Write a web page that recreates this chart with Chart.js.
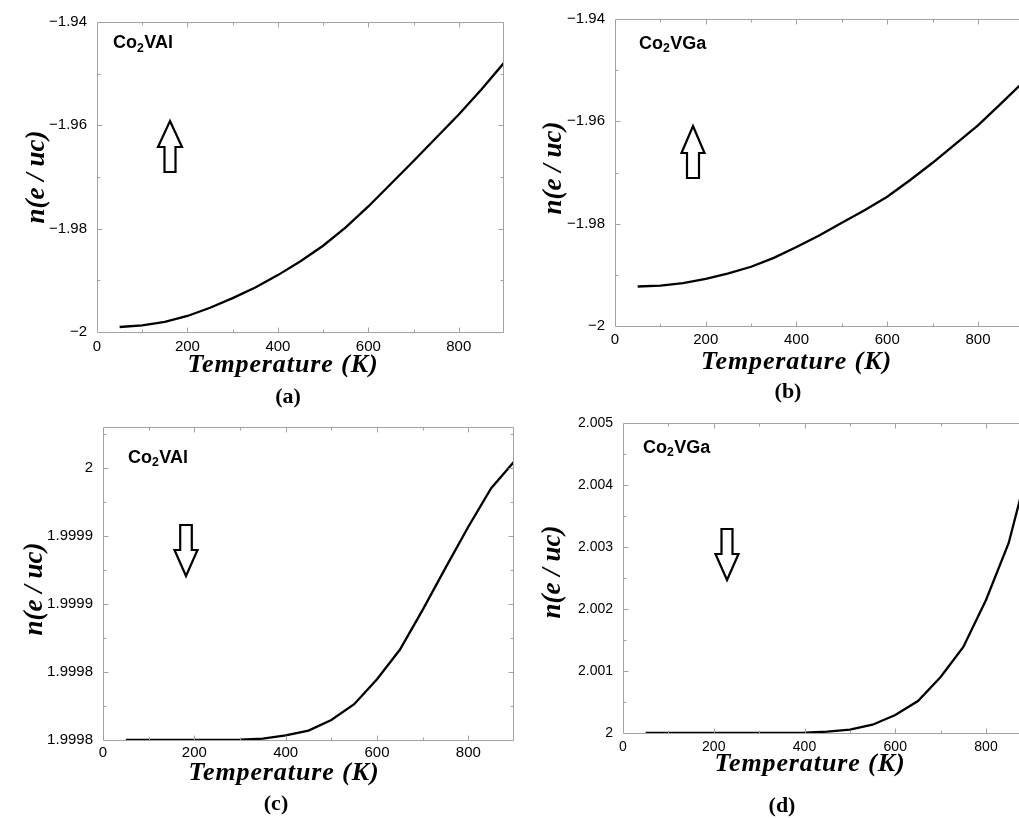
<!DOCTYPE html>
<html><head><meta charset="utf-8">
<script src="https://cdn.jsdelivr.net/npm/chart.js@4.4.1/dist/chart.umd.min.js"></script>
<style>
html,body{margin:0;padding:0;background:#fff;overflow:hidden;}
#wrap{position:relative;width:1019px;height:818px;}
canvas{position:absolute;left:0;top:0;}
</style></head><body>
<div id="wrap">
<canvas id="pa" width="1019" height="818"></canvas>
<canvas id="pb" width="1019" height="818"></canvas>
<canvas id="pc" width="1019" height="818"></canvas>
<canvas id="pd" width="1019" height="818"></canvas>
</div>
<script>
// ---------------- data ----------------
const temperatures = [50,100,150,200,250,300,350,400,450,500,550,600,650,700,750,800,850,900];
const nCo2VAl_up = [-1.99903,-1.99871,-1.99802,-1.99690,-1.99530,-1.99345,-1.99140,-1.98899,-1.98630,-1.98330,-1.97975,-1.97570,-1.97130,-1.96690,-1.96240,-1.95789,-1.95306,-1.94791];
const nCo2VGa_up = [-1.99228,-1.99209,-1.99160,-1.99080,-1.98971,-1.98842,-1.98669,-1.98457,-1.98232,-1.97981,-1.97738,-1.97473,-1.97151,-1.96810,-1.96444,-1.96077,-1.95659,-1.95228];
const nCo2VAl_dn = [1.99980,1.99980,1.99980,1.99980,1.99980,1.9998002,1.9998010,1.9998034,1.9998069,1.9998147,1.9998263,1.9998447,1.9998663,1.9998957,1.9999265,1.9999568,1.9999851,2.0000046];
const nCo2VGa_dn = [2,2,2,2,2,2,2,2.0000054,2.0000215,2.0000538,2.000134,2.00029,2.000516,2.000903,2.001387,2.002145,2.003065,2.00448];

const xTicks = [0,200,400,600,800];
const xTickLabels = ['0','200','400','600','800'];
const yTicksUp = [-2,-1.98,-1.96,-1.94];
const yTickLabelsUp = ['\u22122','\u22121.98','\u22121.96','\u22121.94'];
const yTicksC = [1.9998,1.99985,1.9999,1.99995,2];
const yTickLabelsC = ['1.9998','1.9998','1.9999','1.9999','2'];
const yTicksD = [2,2.001,2.002,2.003,2.004,2.005];
const yTickLabelsD = ['2','2.001','2.002','2.003','2.004','2.005'];

const xTitle = 'Temperature (K)';
const yTitle = 'n(e / uc)';
const compoundVAl = [{t:'Co'},{t:'2',sub:true},{t:'VAl'}];
const compoundVGa = [{t:'Co'},{t:'2',sub:true},{t:'VGa'}];

// ---------------- plugins ----------------
const SANS = '"Liberation Sans", Arial, Helvetica, sans-serif';
const SERIF = '"Liberation Serif", "Times New Roman", Times, serif';

const framePlugin = {
  id: 'frame',
  afterDraw(chart, args, o) {
    const {ctx, chartArea: a} = chart;
    const xs = chart.scales.x, ys = chart.scales.y;
    ctx.save();
    ctx.strokeStyle = '#a2a2a2';
    ctx.lineWidth = 1;
    const L = Math.round(a.left) + 0.5, R = Math.round(a.right) - 0.5;
    const T = Math.round(a.top) + 0.5, B = Math.round(a.bottom) + 0.5;
    ctx.beginPath();
    ctx.moveTo(L, T); ctx.lineTo(L, B); ctx.lineTo(R + (o.right ? 0 : 1), B);
    ctx.moveTo(L, T); ctx.lineTo(R + (o.right ? 0 : 1), T);
    if (o.right) { ctx.moveTo(R, T); ctx.lineTo(R, B); }
    const xv = xs.ticks.map(t => t.value);
    const xStep = xv[1] - xv[0];
    const xAll = [];
    xv.forEach(v => { xAll.push([v, 5]); xAll.push([v + xStep / 2, 3]); });
    xAll.forEach(([v, len]) => {
      if (v <= xs.min || v >= xs.max) return;
      const p = Math.round(xs.getPixelForValue(v)) + 0.5;
      ctx.moveTo(p, B); ctx.lineTo(p, B - len);
      ctx.moveTo(p, T); ctx.lineTo(p, T + len);
    });
    const yv = ys.ticks.map(t => t.value);
    const yStep = yv[1] - yv[0];
    const yAll = [];
    yv.forEach(v => { yAll.push([v, 5]); yAll.push([v + yStep / 2, 3]); });
    yAll.forEach(([v, len]) => {
      if (v <= ys.min || v >= ys.max) return;
      const p = Math.round(ys.getPixelForValue(v)) + 0.5;
      ctx.moveTo(L, p); ctx.lineTo(L + len, p);
      if (o.right) { ctx.moveTo(R, p); ctx.lineTo(R - len, p); }
    });
    ctx.stroke();
    ctx.restore();
  }
};

const decoPlugin = {
  id: 'deco',
  afterDraw(chart, args, o) {
    const ctx = chart.ctx;
    ctx.save();
    ctx.fillStyle = '#000';
    ctx.textAlign = 'left';
    ctx.textBaseline = 'alphabetic';
    let x = o.label.x;
    const s = o.label.size;
    o.label.parts.forEach(p => {
      const fs = p.sub ? s * 0.68 : s;
      ctx.font = 'bold ' + fs + 'px ' + SANS;
      ctx.fillText(p.t, x, o.label.y + (p.sub ? s * 0.2 : 0));
      x += ctx.measureText(p.t).width + (p.sub ? 0.5 : 0);
    });
    const ar = o.arrow;
    ctx.beginPath();
    ctx.moveTo(ar.cx, ar.tip);
    ctx.lineTo(ar.cx + ar.hw, ar.head);
    ctx.lineTo(ar.cx + ar.sw, ar.head);
    ctx.lineTo(ar.cx + ar.sw, ar.tail);
    ctx.lineTo(ar.cx - ar.sw, ar.tail);
    ctx.lineTo(ar.cx - ar.sw, ar.head);
    ctx.lineTo(ar.cx - ar.hw, ar.head);
    ctx.closePath();
    ctx.fillStyle = '#fff';
    ctx.fill();
    ctx.lineWidth = 2.2;
    ctx.lineJoin = 'miter';
    ctx.strokeStyle = '#000';
    ctx.stroke();
    ctx.fillStyle = '#000';
    ctx.textAlign = 'center';
    ctx.save();
    ctx.font = 'italic bold ' + o.xTitleSize + 'px ' + SERIF;
    if ('letterSpacing' in ctx) ctx.letterSpacing = '0.9px';
    ctx.fillText(xTitle, o.xTitle.x, o.xTitle.y);
    ctx.restore();
    ctx.save();
    ctx.font = 'italic bold ' + o.yTitleSize + 'px ' + SERIF;
    ctx.translate(o.yTitle.x, o.yTitle.y);
    ctx.rotate(-Math.PI / 2);
    ctx.fillText(yTitle, 0, 0);
    ctx.restore();
    ctx.font = 'bold 22px ' + SERIF;
    ctx.fillText(o.letter.text, o.letter.x, o.letter.y);
    ctx.restore();
  }
};

// ---------------- panels ----------------
function makePanel(id, values, yTicks, yLabels, yMin, yMax, xMax, box, fontSize, xPad, deco) {
  const W = 1019, H = 818, YW = 75, XH = 40;
  new Chart(document.getElementById(id), {
    type: 'line',
    data: {
      datasets: [{
        data: temperatures.map((t, i) => ({x: t, y: values[i]})),
        borderColor: '#000',
        borderWidth: 2.3,
        pointRadius: 0,
        tension: 0,
        fill: false
      }]
    },
    options: {
      responsive: false,
      animation: false,
      events: [],
      layout: { padding: { left: box.L - YW, top: box.T, right: W - box.R, bottom: H - box.B - XH } },
      scales: {
        x: {
          type: 'linear', min: 0, max: xMax,
          grid: { display: false, drawTicks: false },
          border: { display: false },
          ticks: { padding: xPad, color: '#000', autoSkip: false, maxRotation: 0,
                   font: { family: SANS, size: fontSize },
                   callback: (v, i) => xTickLabels[i] },
          afterBuildTicks: s => { s.ticks = xTicks.map(v => ({value: v})); },
          afterFit: s => { s.height = XH; }
        },
        y: {
          type: 'linear', min: yMin, max: yMax,
          grid: { display: false, drawTicks: false },
          border: { display: false },
          ticks: { padding: 10, color: '#000', autoSkip: false,
                   font: { family: SANS, size: fontSize },
                   callback: (v, i) => yLabels[i] },
          afterBuildTicks: s => { s.ticks = yTicks.map(v => ({value: v})); },
          afterFit: s => { s.width = YW; }
        }
      },
      plugins: {
        legend: { display: false },
        tooltip: { enabled: false },
        frame: { right: box.right },
        deco: deco
      }
    },
    plugins: [framePlugin, decoPlugin]
  });
}

makePanel('pa', nCo2VAl_up, yTicksUp, yTickLabelsUp, -2, -1.94, 900,
  {L: 97, T: 22, R: 504, B: 332, right: true}, 15, 6, {
    label: {x: 113, y: 48, size: 18, parts: compoundVAl},
    arrow: {cx: 170, tip: 121, head: 147, tail: 172, hw: 12, sw: 5.5},
    xTitleSize: 26, yTitleSize: 27,
    xTitle: {x: 283, y: 372},
    yTitle: {x: 44, y: 177},
    letter: {text: '(a)', x: 288, y: 403}
  });

makePanel('pb', nCo2VGa_up, yTicksUp, yTickLabelsUp, -2, -1.94, 890.4,
  {L: 615, T: 15, R: 1019, B: 326, right: false}, 15, 5, {
    label: {x: 639, y: 48.5, size: 18, parts: compoundVGa},
    arrow: {cx: 693, tip: 126, head: 153, tail: 178, hw: 11.5, sw: 6},
    xTitleSize: 26, yTitleSize: 27,
    xTitle: {x: 796.5, y: 369},
    yTitle: {x: 561, y: 168},
    letter: {text: '(b)', x: 788, y: 398}
  });

makePanel('pc', nCo2VAl_dn, yTicksC, yTickLabelsC, 1.9998, 2.0000301, 900,
  {L: 103, T: 427, R: 514, B: 740, right: true}, 15, 4, {
    label: {x: 128, y: 462.5, size: 18, parts: compoundVAl},
    arrow: {cx: 186, tip: 576, head: 550, tail: 525, hw: 11.5, sw: 5.8},
    xTitleSize: 26, yTitleSize: 27,
    xTitle: {x: 284, y: 780},
    yTitle: {x: 42, y: 589},
    letter: {text: '(c)', x: 276, y: 810}
  });

makePanel('pd', nCo2VGa_dn, yTicksD, yTickLabelsD, 2, 2.005, 872.7,
  {L: 623, T: 423, R: 1019, B: 733, right: false}, 14, 5.6, {
    label: {x: 643, y: 452.5, size: 18, parts: compoundVGa},
    arrow: {cx: 727, tip: 580, head: 554, tail: 529, hw: 11.5, sw: 5.5},
    xTitleSize: 26, yTitleSize: 27,
    xTitle: {x: 810, y: 771},
    yTitle: {x: 560, y: 572},
    letter: {text: '(d)', x: 782, y: 812}
  });
</script>
</body></html>
